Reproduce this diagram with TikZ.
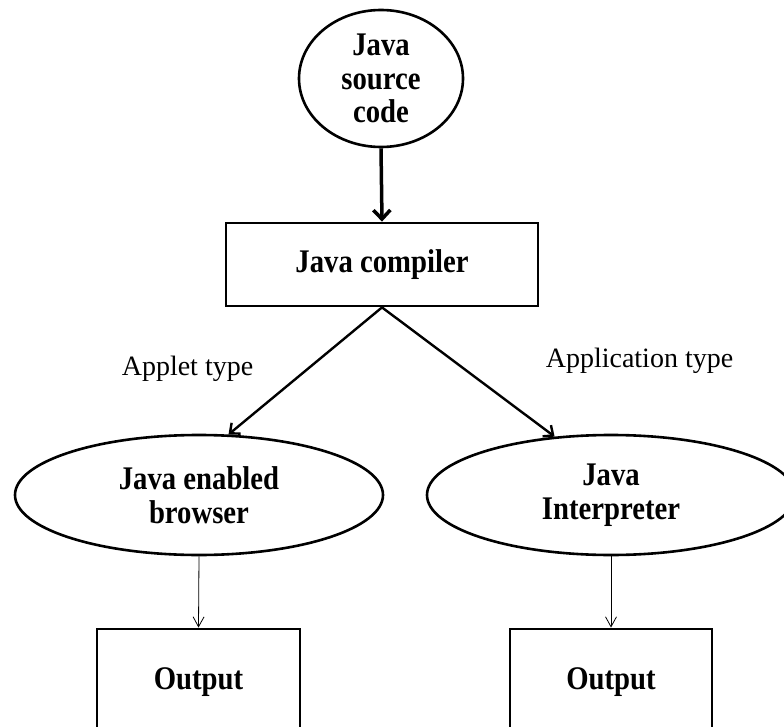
\documentclass[tikz,border=0pt]{standalone}
\usepackage{fontspec}
\setmainfont{Liberation Serif}
\newfontfamily\condserif{Liberation Serif}[FakeStretch=0.87]
\usetikzlibrary{shapes.geometric,arrows.meta}
\begin{document}
\begin{tikzpicture}[x=1pt,y=-1pt,
  boldtext/.style={font=\condserif\fontsize{33}{33.5}\selectfont\bfseries, align=center, text=black},
  ell/.style={ellipse, draw=black, line width=2.6pt, inner sep=0pt, boldtext},
  boxnode/.style={rectangle, draw=black, line width=2.8pt, inner sep=0pt, boldtext},
  lbl/.style={font=\fontsize{28}{33}\selectfont, text=black, anchor=base, inner sep=0pt},
  thickarrow/.style={line width=3.5pt, -{Straight Barb[length=9pt,width=17pt,line width=3.5pt]}},
  midarrow/.style={line width=2.4pt, -{Straight Barb[length=8pt,width=14pt,line width=2.4pt]}},
  thinarrow/.style={line width=0.8pt, -{Straight Barb[length=10pt,width=11pt,line width=0.8pt]}}
]
\useasboundingbox (0,0) rectangle (784,727);
\node[ell, minimum width=164pt, minimum height=137pt] (src) at (381,78.5) {Java\\source\\code};
\node[boxnode, minimum width=312pt, minimum height=83pt] (comp) at (382,264.5) {Java compiler};
\node[ell, minimum width=368pt, minimum height=120pt] (brow) at (199,495) {Java enabled\\browser};
\node[ell, minimum width=368pt, minimum height=120pt] (interp) at (611,495) {Java\\Interpreter};
\node[boxnode, minimum width=203pt, minimum height=106pt] (out1) at (198.5,682) {Output};
\node[boxnode, minimum width=202pt, minimum height=106pt] (out2) at (611,682) {Output};
\node[lbl] (lapplet) at (187.5,375) {Applet type};
\node[lbl] (lapp) at (639.5,367) {Application type};
\draw[thickarrow] (src.south) -- (comp.north);
\draw[midarrow] (comp.south) -- (brow.64);
\draw[midarrow] (comp.south) -- (interp.134);
\draw[thinarrow] (brow.south) -- (out1.north);
\draw[thinarrow] (interp.south) -- (out2.north);
\end{tikzpicture}
\end{document}
